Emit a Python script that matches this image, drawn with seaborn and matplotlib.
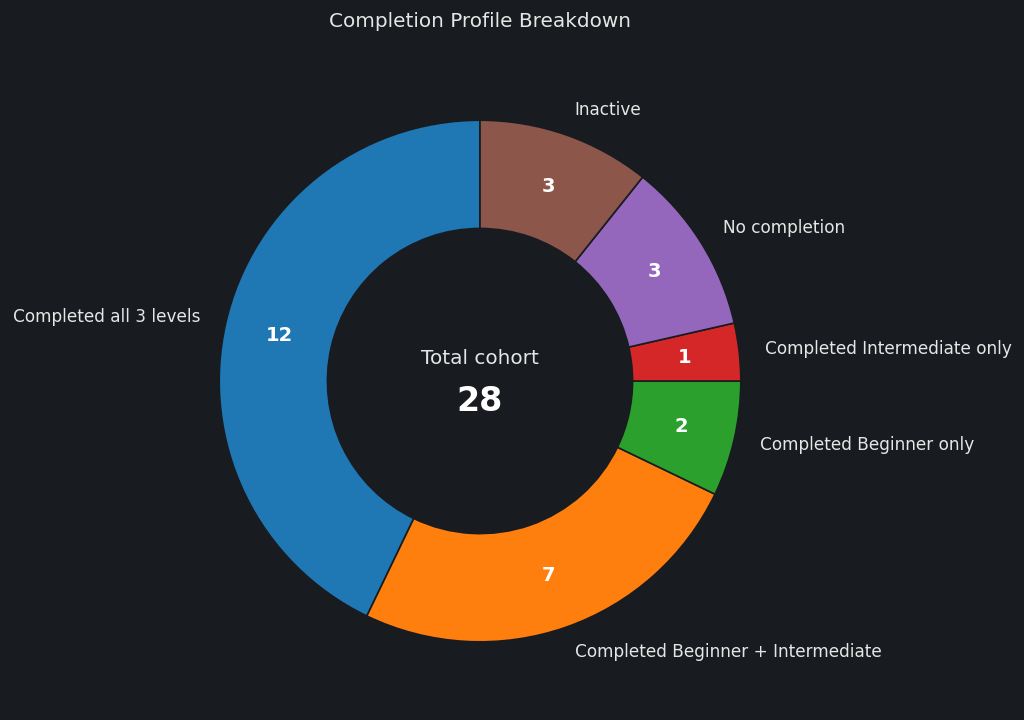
import matplotlib
matplotlib.use("Agg")
import matplotlib.pyplot as plt
import seaborn as sns

# Data
categories = [
    "Completed all 3 levels",
    "Completed Beginner + Intermediate",
    "Completed Beginner only",
    "Completed Intermediate only",
    "No completion",
    "Inactive",
]
counts = [12, 7, 2, 1, 3, 3]

bg = "#181b1f"
text_col = "#e6e6e6"

sns.set_theme(style="dark")
plt.rcParams["font.family"] = ["DejaVu Sans"]

colors = sns.color_palette("tab10", len(categories))

fig = plt.figure(figsize=(10.24, 7.2), dpi=100, facecolor=bg)
ax = fig.add_axes([0.1504, 0.018, 0.6367, 0.9056])
ax.set_facecolor(bg)

total = sum(counts)

wedges, texts, autotexts = ax.pie(
    counts,
    labels=categories,
    colors=colors,
    startangle=90,
    counterclock=True,
    labeldistance=1.1,
    pctdistance=0.79,
    autopct=lambda p: f"{round(p * total / 100):d}",
    wedgeprops=dict(width=0.415, edgecolor=bg, linewidth=1.2),
    textprops=dict(color=text_col, fontsize=12.2),
)

for t in autotexts:
    t.set_color("white")
    t.set_fontsize(14)
    t.set_fontweight("bold")

ax.text(0, 0.085, "Total cohort", ha="center", va="center", color=text_col, fontsize=14.4)
ax.text(0, -0.08, str(total), ha="center", va="center", color="white",
        fontsize=24, fontweight="bold")

ax.set_title("Completion Profile Breakdown", color=text_col, fontsize=14.4, pad=20)
ax.set_aspect("equal")

plt.savefig("out.png", facecolor=bg)
